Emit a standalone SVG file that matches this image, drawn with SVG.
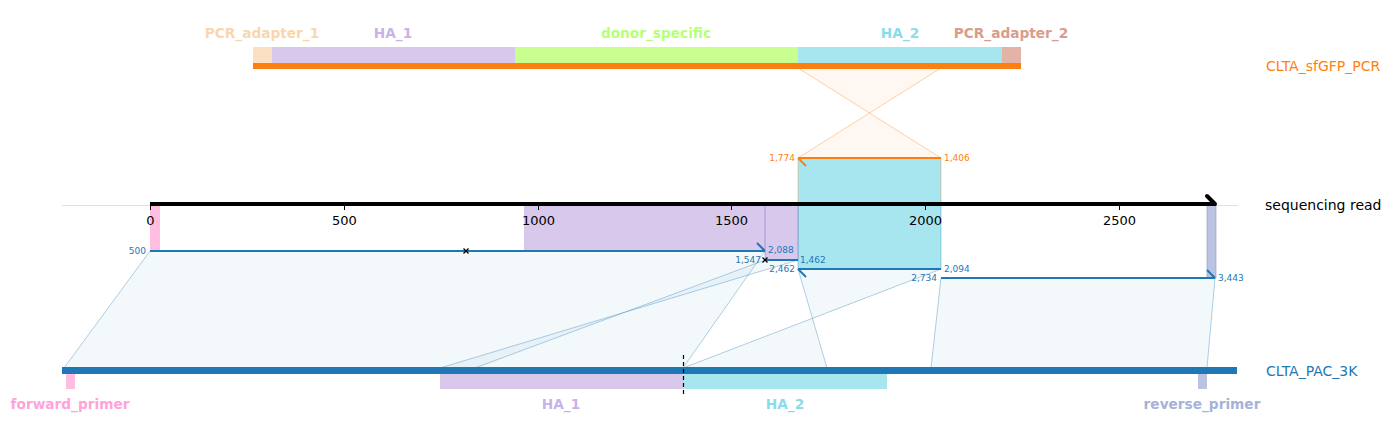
<svg xmlns="http://www.w3.org/2000/svg" width="1391" height="437" viewBox="0 0 1391 437">
<style>
text{font-family:"DejaVu Sans","Liberation Sans",sans-serif}
.fl{font-size:13.7px;font-weight:bold}
.nm{font-size:14px}
.tk{font-size:13px;fill:#000}
.num{font-size:9px}
.bn{fill:#1f77b4}
.on{fill:#ff7f0e}
.bpoly{fill:#1f77b4;fill-opacity:0.055;stroke:#1f77b4;stroke-opacity:0.35;stroke-width:1}
.opoly{fill:#ff7f0e;fill-opacity:0.06;stroke:#ff7f0e;stroke-opacity:0.35;stroke-width:1}
.bseg{stroke:#1f77b4;stroke-width:2;fill:none}
.oseg{stroke:#ff7f0e;stroke-width:2;fill:none}
.xm{stroke:#000;stroke-width:1.3}
</style>
<rect width="1391" height="437" fill="#fff"/>

<g id="connectors">
  <polygon class="bpoly" points="150,251 765,251 683,368 64,368"/>
  <polygon class="bpoly" points="765,260 798,260 440,368 475,368"/>
  <polygon class="bpoly" points="798,269 941,269 683,368 827,368"/>
  <polygon class="bpoly" points="941,278 1215,278 1207,368 931,368"/>
  <polygon class="opoly" points="798,158 941,158 798,68 941,68"/>
</g>

<g id="read-features">
  <rect x="798" y="158" width="143" height="46" fill="#a8e6ef" stroke="#ff7f0e" stroke-opacity="0.4"/>
  <rect x="798" y="205" width="143" height="64" fill="#a8e6ef" stroke="#1f77b4" stroke-opacity="0.35"/>
  <rect x="150" y="205" width="10" height="46" fill="#ffbde2"/>
  <rect x="524" y="205" width="241" height="46" fill="#d8c8ec"/>
  <rect x="765" y="205" width="33" height="55" fill="#d8c8ec" stroke="#8080c8" stroke-opacity="0.6"/>
  <rect x="1207" y="205" width="9" height="73" fill="#bac4e0" stroke="#8898cc" stroke-opacity="0.6"/>
</g>

<g id="sequencing-read">
  <line x1="62" y1="205.5" x2="1238" y2="205.5" stroke="#e0e0e0" stroke-width="1"/>
  <line x1="150" y1="204" x2="1214" y2="204" stroke="#000" stroke-width="4"/>
  <polyline points="1207,196 1215,204" stroke="#000" stroke-width="4" fill="none" stroke-linecap="round"/>
  <g stroke="#000" stroke-width="1">
    <line x1="150.5" y1="204" x2="150.5" y2="210"/>
    <line x1="344.5" y1="204" x2="344.5" y2="210"/>
    <line x1="538.5" y1="204" x2="538.5" y2="210"/>
    <line x1="731.5" y1="204" x2="731.5" y2="210"/>
    <line x1="925.5" y1="204" x2="925.5" y2="210"/>
    <line x1="1119.5" y1="204" x2="1119.5" y2="210"/>
  </g>
  <g class="tk" text-anchor="middle">
    <text x="150.5" y="225">0</text>
    <text x="344.5" y="225">500</text>
    <text x="538.5" y="225">1000</text>
    <text x="731.5" y="225">1500</text>
    <text x="925.5" y="225">2000</text>
    <text x="1119.5" y="225">2500</text>
  </g>
  <text class="nm" x="1265" y="210" fill="#000">sequencing read</text>
</g>

<g id="alignment-segments">
  <line class="bseg" x1="150" y1="251" x2="765" y2="251"/>
  <line class="bseg" x1="757" y1="243" x2="765" y2="251"/>
  <line class="bseg" x1="765" y1="260" x2="798" y2="260"/>
  <line class="bseg" x1="798" y1="269" x2="941" y2="269"/>
  <line class="bseg" x1="798" y1="269" x2="806" y2="277"/>
  <line class="bseg" x1="941" y1="278" x2="1215" y2="278"/>
  <line class="bseg" x1="1207" y1="270" x2="1215" y2="278"/>
  <line class="oseg" x1="798" y1="158" x2="941" y2="158"/>
  <line class="oseg" x1="798" y1="158" x2="806" y2="166"/>
  <g class="xm">
    <line x1="463.5" y1="248.5" x2="468.5" y2="253.5"/><line x1="468.5" y1="248.5" x2="463.5" y2="253.5"/>
    <line x1="762.5" y1="257.5" x2="767.5" y2="262.5"/><line x1="767.5" y1="257.5" x2="762.5" y2="262.5"/>
  </g>
  <g class="num bn">
    <text x="146" y="253.5" text-anchor="end">500</text>
    <text x="768" y="253">2,088</text>
    <text x="761" y="263" text-anchor="end">1,547</text>
    <text x="800" y="263">1,462</text>
    <text x="795" y="272" text-anchor="end">2,462</text>
    <text x="944" y="272">2,094</text>
    <text x="937" y="281" text-anchor="end">2,734</text>
    <text x="1218" y="281">3,443</text>
  </g>
  <g class="num on">
    <text x="795" y="161" text-anchor="end">1,774</text>
    <text x="944" y="161">1,406</text>
  </g>
</g>

<g id="CLTA_sfGFP_PCR">
  <rect x="253" y="47" width="19" height="16" fill="#fbe0c4"/>
  <rect x="272" y="47" width="243" height="16" fill="#d8c8ec"/>
  <rect x="515" y="47" width="283" height="16" fill="#c8ff90"/>
  <rect x="798" y="47" width="204" height="16" fill="#a8e6ef"/>
  <rect x="1002" y="47" width="19" height="16" fill="#e3b3a8"/>
  <rect x="253" y="63" width="768" height="6" fill="#ff7f0e"/>
  <g class="fl" text-anchor="middle">
    <text x="262" y="38" fill="#f9d6ae">PCR_adapter_1</text>
    <text x="393" y="38" fill="#c8b2e6">HA_1</text>
    <text x="656" y="38" fill="#b8ff78">donor_specific</text>
    <text x="900" y="38" fill="#8adcea">HA_2</text>
    <text x="1011" y="38" fill="#da9c8c">PCR_adapter_2</text>
  </g>
  <text class="nm" x="1266" y="71" fill="#ff7f0e">CLTA_sfGFP_PCR</text>
</g>

<g id="CLTA_PAC_3K">
  <rect x="66" y="374" width="9" height="15" fill="#ffbde2"/>
  <rect x="440" y="374" width="243" height="15" fill="#d8c8ec"/>
  <rect x="683" y="374" width="204" height="15" fill="#a8e6ef"/>
  <rect x="1198" y="374" width="9" height="15" fill="#bac4e0"/>
  <rect x="62" y="367" width="1175" height="7" fill="#1f77b4"/>
  <line x1="683.5" y1="355" x2="683.5" y2="394" stroke="#000" stroke-width="1.2" stroke-dasharray="4,3"/>
  <g class="fl" text-anchor="middle">
    <text x="70" y="409" fill="#ffa3d8">forward_primer</text>
    <text x="561" y="409" fill="#c8b2e6">HA_1</text>
    <text x="785" y="409" fill="#8adcea">HA_2</text>
    <text x="1202" y="409" fill="#a6b2d8">reverse_primer</text>
  </g>
  <text class="nm" x="1266" y="376" fill="#1f77b4">CLTA_PAC_3K</text>
</g>
</svg>
